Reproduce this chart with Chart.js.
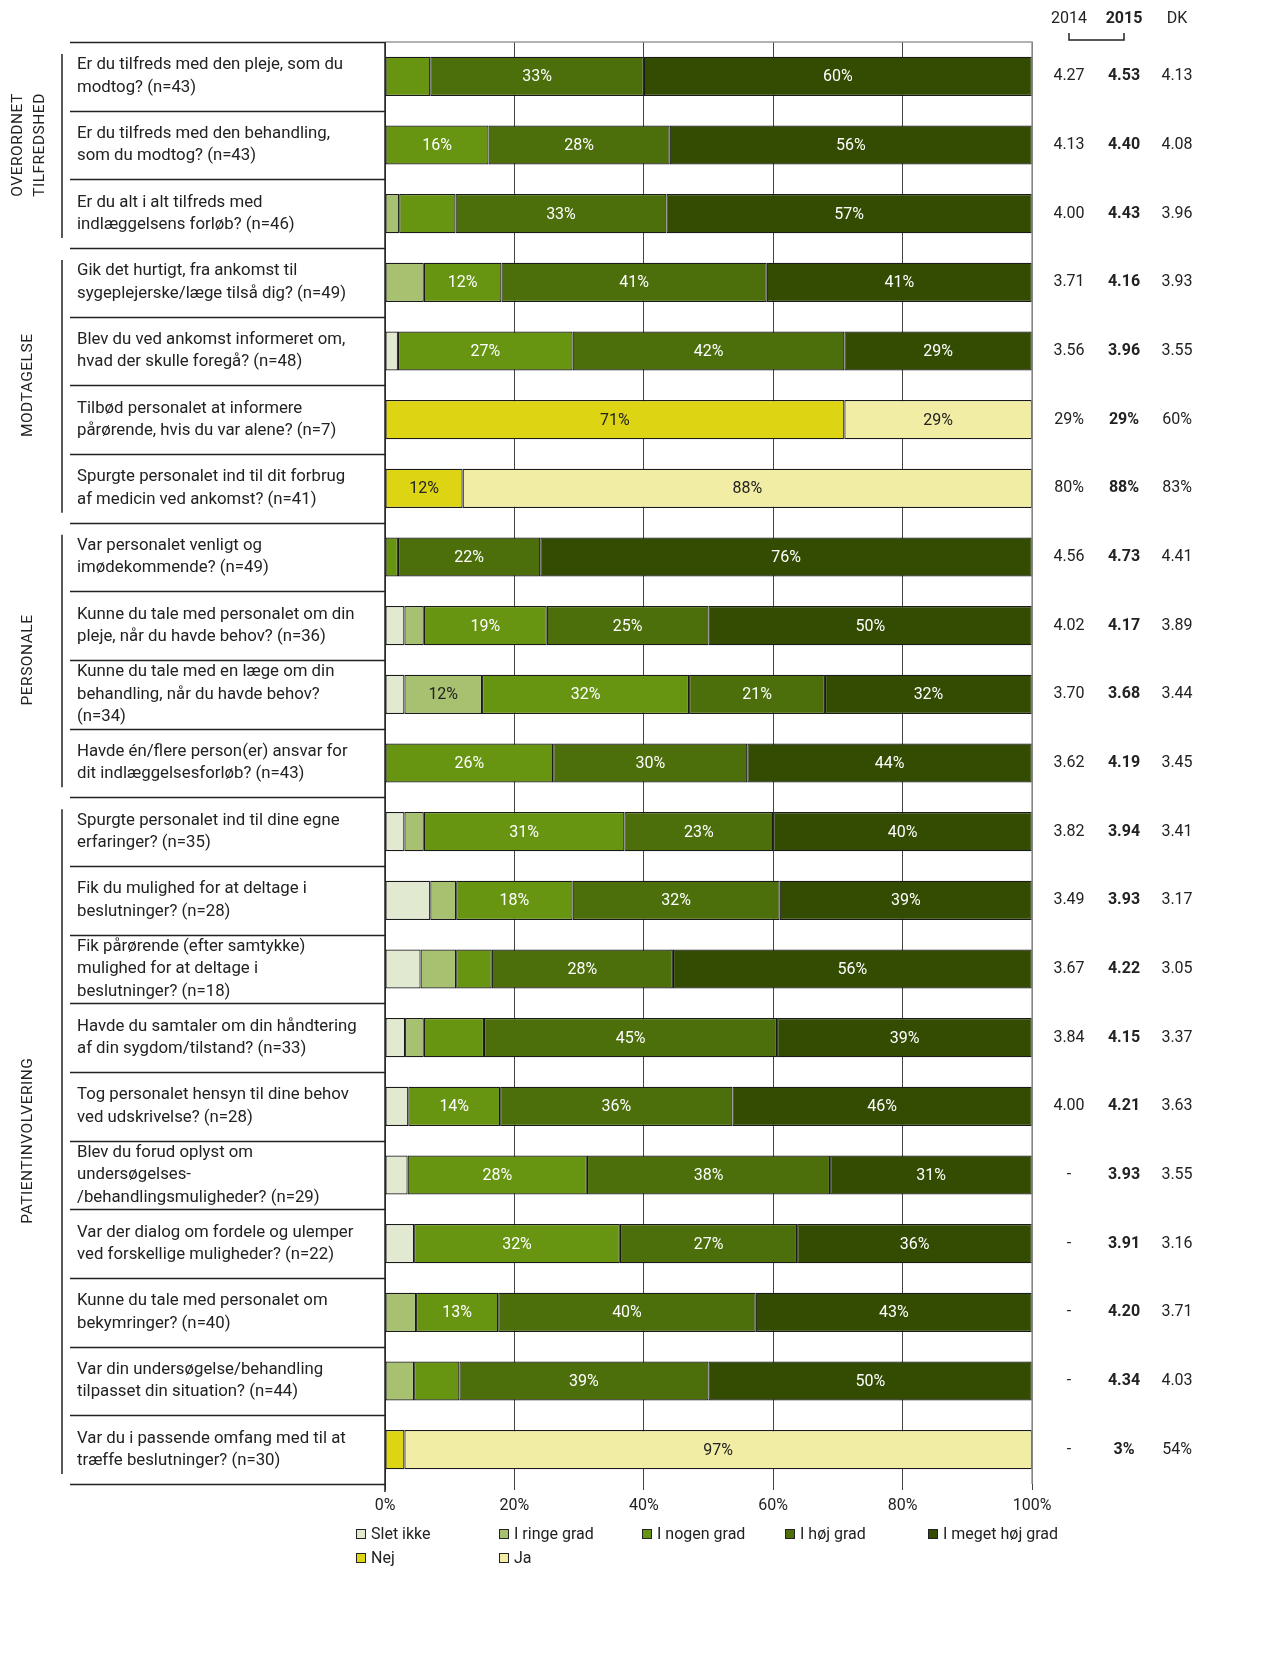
<!DOCTYPE html>
<html>
<head>
<meta charset="utf-8">
<script src="https://cdn.jsdelivr.net/npm/chart.js@4.4.1/dist/chart.umd.min.js"></script>
<style>
  body { margin: 0; background: #fff; }
  #wrap { width: 1277px; height: 1670px; position: relative; }
</style>
</head>
<body>
<div id="wrap"><canvas id="myChart"></canvas></div>
<script>
let questions = [
  ["Er du tilfreds med den pleje, som du", "modtog? (n=43)"],
  ["Er du tilfreds med den behandling,", "som du modtog? (n=43)"],
  ["Er du alt i alt tilfreds med", "indlæggelsens forløb? (n=46)"],
  ["Gik det hurtigt, fra ankomst til", "sygeplejerske/læge tilså dig? (n=49)"],
  ["Blev du ved ankomst informeret om,", "hvad der skulle foregå? (n=48)"],
  ["Tilbød personalet at informere", "pårørende, hvis du var alene? (n=7)"],
  ["Spurgte personalet ind til dit forbrug", "af medicin ved ankomst? (n=41)"],
  ["Var personalet venligt og", "imødekommende? (n=49)"],
  ["Kunne du tale med personalet om din", "pleje, når du havde behov? (n=36)"],
  ["Kunne du tale med en læge om din", "behandling, når du havde behov?", "(n=34)"],
  ["Havde én/flere person(er) ansvar for", "dit indlæggelsesforløb? (n=43)"],
  ["Spurgte personalet ind til dine egne", "erfaringer? (n=35)"],
  ["Fik du mulighed for at deltage i", "beslutninger? (n=28)"],
  ["Fik pårørende (efter samtykke)", "mulighed for at deltage i", "beslutninger? (n=18)"],
  ["Havde du samtaler om din håndtering", "af din sygdom/tilstand? (n=33)"],
  ["Tog personalet hensyn til dine behov", "ved udskrivelse? (n=28)"],
  ["Blev du forud oplyst om", "undersøgelses-", "/behandlingsmuligheder? (n=29)"],
  ["Var der dialog om fordele og ulemper", "ved forskellige muligheder? (n=22)"],
  ["Kunne du tale med personalet om", "bekymringer? (n=40)"],
  ["Var din undersøgelse/behandling", "tilpasset din situation? (n=44)"],
  ["Var du i passende omfang med til at", "træffe beslutninger? (n=30)"]
];

let groupNames = [["OVERORDNET", "TILFREDSHED"], ["MODTAGELSE"], ["PERSONALE"], ["PATIENTINVOLVERING"]];
let groupSizes = [3, 4, 4, 10];

let sletIkke      = [0, 0, 0,   0, 2,  0,  0,  0, 3,  3,  0, 3,  7, 5.5, 3.1, 3.6, 3.5, 4.5, 0,    0,    0];
let ringeGrad     = [0, 0, 2.2, 6, 0,  0,  0,  0, 3,  12, 0, 3,  4, 5.5, 2.9, 0,   0,   0,   4.8,  4.5,  0];
let nogenGrad     = [7, 16, 8.7, 12, 27, 0, 0, 2, 19, 32, 26, 31, 18, 5.5, 9.3, 14.2, 27.7, 31.8, 12.7, 7, 0];
let hoejGrad      = [33, 28, 32.6, 41, 42, 0, 0, 22, 25, 21, 30, 23, 32, 28, 45.3, 35.9, 37.6, 27.4, 39.8, 38.5, 0];
let megetHoejGrad = [60, 56, 56.5, 41, 29, 0, 0, 76, 50, 32, 44, 40, 39, 55.5, 39.4, 46.3, 31.2, 36.3, 42.7, 50, 0];
let nej           = [0, 0, 0, 0, 0, 71, 12, 0, 0, 0, 0, 0, 0, 0, 0, 0, 0, 0, 0, 0, 3];
let ja            = [0, 0, 0, 0, 0, 29, 88, 0, 0, 0, 0, 0, 0, 0, 0, 0, 0, 0, 0, 0, 97];

let col2014 = ["4.27", "4.13", "4.00", "3.71", "3.56", "29%", "80%", "4.56", "4.02", "3.70", "3.62",
               "3.82", "3.49", "3.67", "3.84", "4.00", "-", "-", "-", "-", "-"];
let col2015 = ["4.53", "4.40", "4.43", "4.16", "3.96", "29%", "88%", "4.73", "4.17", "3.68", "4.19",
               "3.94", "3.93", "4.22", "4.15", "4.21", "3.93", "3.91", "4.20", "4.34", "3%"];
let colDK   = ["4.13", "4.08", "3.96", "3.93", "3.55", "60%", "83%", "4.41", "3.89", "3.44", "3.45",
               "3.41", "3.17", "3.05", "3.37", "3.63", "3.55", "3.16", "3.71", "4.03", "54%"];
let colHeaders = ["2014", "2015", "DK"];

let xTicks = [0, 20, 40, 60, 80, 100];

const FONT = "Roboto, 'Open Sans', sans-serif";
const TXT = '#222';

let series = [
  {label: 'Slet ikke', data: sletIkke, color: '#e1e9d0', dark: true},
  {label: 'I ringe grad', data: ringeGrad, color: '#a7c171', dark: true},
  {label: 'I nogen grad', data: nogenGrad, color: '#679512', dark: false},
  {label: 'I høj grad', data: hoejGrad, color: '#4c6f0b', dark: false},
  {label: 'I meget høj grad', data: megetHoejGrad, color: '#334c02', dark: false},
  {label: 'Nej', data: nej, color: '#ddd414', dark: true},
  {label: 'Ja', data: ja, color: '#f1eda4', dark: true}
];

const extras = {
  id: 'extras',
  afterDatasetsDraw(chart) {
    const ctx = chart.ctx;
    ctx.save();
    ctx.font = '16px ' + FONT;
    ctx.textAlign = 'center';
    ctx.textBaseline = 'middle';
    chart.data.datasets.forEach((ds, di) => {
      const meta = chart.getDatasetMeta(di);
      meta.data.forEach((bar, i) => {
        const v = ds.data[i];
        if (!v || v < 10) return;
        ctx.fillStyle = series[di].dark ? TXT : '#fff';
        ctx.fillText(Math.round(v) + '%', (bar.x + bar.base) / 2, bar.y + 1);
      });
    });
    ctx.restore();
  },
  afterDraw(chart) {
    const ctx = chart.ctx;
    const area = chart.chartArea;
    const yScale = chart.scales.y;
    const n = questions.length;
    const pitch = (area.bottom - area.top) / n;
    ctx.save();

    // frame
    ctx.strokeStyle = '#999';
    ctx.lineWidth = 1.5;
    ctx.beginPath();
    ctx.moveTo(area.left, area.top);
    ctx.lineTo(area.right, area.top);
    ctx.lineTo(area.right, area.bottom);
    ctx.stroke();
    ctx.strokeStyle = '#222';
    ctx.beginPath();
    ctx.moveTo(area.left, area.top);
    ctx.lineTo(area.left, area.bottom + 8);
    ctx.stroke();

    // row separators on the left
    ctx.strokeStyle = '#222';
    ctx.lineWidth = 1.5;
    for (let i = 0; i <= n; i++) {
      const y = Math.round(area.top + i * pitch) + 0.5;
      ctx.beginPath();
      ctx.moveTo(70, y);
      ctx.lineTo(area.left, y);
      ctx.stroke();
    }

    // question labels
    ctx.fillStyle = TXT;
    ctx.font = '16.8px ' + FONT;
    ctx.textAlign = 'left';
    ctx.textBaseline = 'middle';
    questions.forEach((lines, i) => {
      const cy = yScale.getPixelForValue(i);
      const lh = 22.5;
      lines.forEach((t, k) => {
        ctx.fillText(t, 77, cy + (k - (lines.length - 1) / 2) * lh);
      });
    });

    // group labels and lines
    let start = 0;
    groupNames.forEach((names, g) => {
      const top = area.top + start * pitch;
      const bot = area.top + (start + groupSizes[g]) * pitch;
      ctx.strokeStyle = '#222';
      ctx.lineWidth = 1.5;
      ctx.beginPath();
      ctx.moveTo(62, top + 12);
      ctx.lineTo(62, bot - 10);
      ctx.stroke();
      const cy = (top + bot) / 2;
      ctx.save();
      ctx.font = '15.5px ' + FONT;
      ctx.fillStyle = TXT;
      ctx.textAlign = 'center';
      ctx.textBaseline = 'middle';
      const xs = names.length === 1 ? [28] : [18, 40];
      names.forEach((t, k) => {
        ctx.save();
        ctx.translate(xs[k], cy);
        ctx.rotate(-Math.PI / 2);
        if ('letterSpacing' in ctx) ctx.letterSpacing = '0.5px';
        ctx.fillText(t, 0, 0);
        ctx.restore();
      });
      ctx.restore();
      start += groupSizes[g];
    });

    // right columns
    const colX = [area.right + 37, area.right + 92, area.right + 145];
    const cols = [col2014, col2015, colDK];
    ctx.textAlign = 'center';
    ctx.fillStyle = TXT;
    colHeaders.forEach((h, c) => {
      ctx.font = (c === 1 ? 'bold ' : '') + '16px ' + FONT;
      ctx.fillText(h, colX[c], 19);
    });
    ctx.strokeStyle = '#222';
    ctx.lineWidth = 1.5;
    ctx.beginPath();
    ctx.moveTo(colX[0], 33);
    ctx.lineTo(colX[0], 40);
    ctx.lineTo(colX[1], 40);
    ctx.lineTo(colX[1], 33);
    ctx.stroke();
    cols.forEach((vals, c) => {
      ctx.font = (c === 1 ? 'bold ' : '') + '16px ' + FONT;
      vals.forEach((v, i) => {
        ctx.fillText(v, colX[c], yScale.getPixelForValue(i));
      });
    });

    // legend
    ctx.font = '16px ' + FONT;
    ctx.textAlign = 'left';
    series.forEach((s, i) => {
      const row = i < 5 ? 0 : 1;
      const col = i < 5 ? i : i - 5;
      const x = area.left - 29 + col * 143;
      const y = 1534 + row * 24;
      ctx.fillStyle = s.color;
      ctx.fillRect(x, y - 5, 10, 10);
      ctx.strokeStyle = '#222';
      ctx.lineWidth = 1;
      ctx.strokeRect(x + 0.5, y - 4.5, 9, 9);
      ctx.fillStyle = TXT;
      ctx.fillText(s.label, x + 15, y + 1);
    });

    ctx.restore();
  }
};

let chart = new Chart(document.getElementById('myChart'), {
  type: 'bar',
  data: {
    labels: questions.map(q => q.join(' ')),
    datasets: series.map(s => ({
      label: s.label,
      data: s.data.map(v => v || null),
      backgroundColor: s.color,
      borderColor: '#1a1a1a',
      borderWidth: 1.2,
      borderSkipped: false,
      categoryPercentage: 1,
      barPercentage: 0.57
    }))
  },
  options: {
    indexAxis: 'y',
    responsive: true,
    maintainAspectRatio: false,
    animation: false,
    layout: {padding: {left: 385, right: 245, top: 42, bottom: 150}},
    plugins: {legend: {display: false}, tooltip: {enabled: false}},
    scales: {
      x: {
        stacked: true,
        min: 0,
        max: 100,
        afterBuildTicks: axis => { axis.ticks = xTicks.map(v => ({value: v})); },
        afterFit: axis => { axis.height = 36; },
        grid: {color: '#444', lineWidth: 1, tickLength: 6, drawTicks: true},
        border: {display: false},
        ticks: {
          padding: 6,
          color: TXT,
          font: {family: FONT, size: 16},
          callback: v => v + '%'
        }
      },
      y: {
        stacked: true,
        display: false
      }
    }
  },
  plugins: [extras]
});
</script>
</body>
</html>
